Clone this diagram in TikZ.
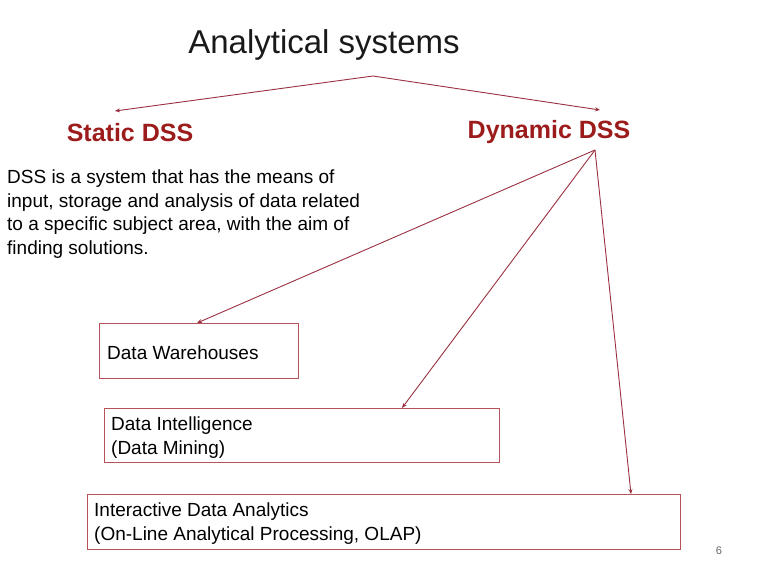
\documentclass[tikz,border=0pt]{standalone}
\usepackage{fontspec}
\setmainfont{Liberation Sans}
\usetikzlibrary{arrows.meta}
\definecolor{arrowred}{HTML}{9A3040}
\definecolor{boxred}{HTML}{B5525A}
\definecolor{headred}{HTML}{9C1C1C}
\begin{document}
\begin{tikzpicture}[x=1pt,y=-1pt,
  conn/.style={draw=arrowred, line width=0.9pt, -{Stealth[length=5pt,width=4pt]}},
  itembox/.style={draw=boxred, line width=1.1pt, rectangle, anchor=north west, inner sep=0pt},
  itemtext/.style={anchor=west, inner sep=0pt, align=left, font=\fontsize{19}{23.8}\selectfont},
  head/.style={font=\fontsize{25}{30}\selectfont\bfseries, text=headred, inner sep=0pt}]
\useasboundingbox (0,0) rectangle (768,576);
\node[font=\fontsize{33}{40}\selectfont, text=black!90, inner sep=0pt] (title) at (324,45) {Analytical systems};
\coordinate (split) at (373,76);
\node[head] (static) at (130,133) {Static DSS};
\node[head] (dynamic) at (549,132) {Dynamic DSS};
\coordinate (dsrc) at (595,150);
\node[anchor=west, align=left, inner sep=0pt, font=\fontsize{19}{23.8}\selectfont] (desc) at (7,214)
  {DSS is a system that has the means of\\input, storage and analysis of data related\\to a specific subject area, with the aim of\\finding solutions.};
\node[itembox, minimum width=199pt, minimum height=55pt] (dw) at (99,323) {};
\node[itemtext] (dwt) at ([xshift=8pt,yshift=-1.5pt]dw.west) {Data Warehouses};
\node[itembox, minimum width=395pt, minimum height=54pt] (di) at (104,408) {};
\node[itemtext] (dit) at ([xshift=7pt,yshift=-2pt]di.west) {Data Intelligence\\(Data Mining)};
\node[itembox, minimum width=593pt, minimum height=55pt] (olap) at (87,494) {};
\node[itemtext] (olapt) at ([xshift=7pt,yshift=-1.5pt]olap.west) {Interactive Data Analytics\\(On-Line Analytical Processing, OLAP)};
\node[font=\fontsize{11}{13}\selectfont, text=black!60, inner sep=0pt] (pg) at (719,551) {6};
\draw[conn] (split) -- (115,111);
\draw[conn] (split) -- (600,110);
\draw[conn] (dsrc) -- (dw.north west -| 197,0);
\draw[conn] (dsrc) -- (di.north west -| 402,0);
\draw[conn] (dsrc) -- (olap.north west -| 631,0);
\end{tikzpicture}
\end{document}
